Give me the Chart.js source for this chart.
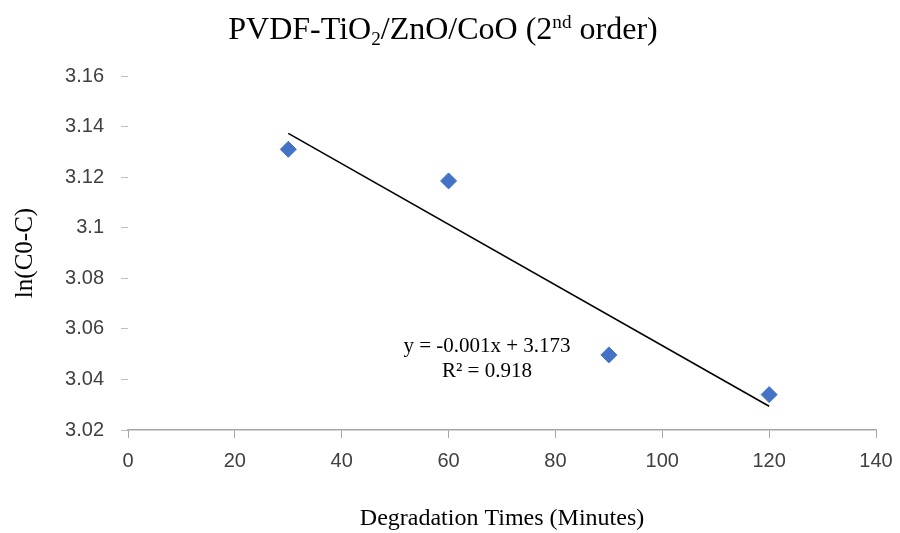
<!DOCTYPE html>
<html>
<head>
<meta charset="utf-8">
<script src="https://cdn.jsdelivr.net/npm/chart.js@4"></script>
<style>
  html, body { margin: 0; padding: 0; background: #fff; }
  #wrap { position: relative; width: 900px; height: 533px; }
  #title {
    position: absolute; left: 0; top: 10px; width: 886px; text-align: center;
    font-family: "Liberation Serif", "Times New Roman", serif; font-size: 32px; color: #000;
  }
  #title sub, #title sup { font-size: 60%; line-height: 0; }
  #title sub { vertical-align: -0.3em; }
  #title sup { vertical-align: 0.55em; }
</style>
</head>
<body>
<div id="wrap">
  <canvas id="chart" width="900" height="533"></canvas>
  <div id="title">PVDF-TiO<sub>2</sub>/ZnO/CoO (2<sup>nd</sup> order)</div>
</div>
<script>
"use strict";

// measured points
const times = [30, 60, 90, 120];
const lnValues = [3.131, 3.1185, 3.0497, 3.034];

// linear trendline ends
const trendX = [30, 120];
const trendY = [3.1373, 3.0294];

const xTicks = [0, 20, 40, 60, 80, 100, 120, 140];
const yTicks = [3.02, 3.04, 3.06, 3.08, 3.1, 3.12, 3.14, 3.16];

const eqLines = ["y = -0.001x + 3.173", "R\u00b2 = 0.918"];

const tickFont = { family: "'Liberation Sans', Arial, sans-serif", size: 20 };
const serif = "'Liberation Serif', 'Times New Roman', serif";

// trendline equation label, placed like Excel's
const eqLabel = {
  id: "eqLabel",
  afterDatasetsDraw(chart) {
    const { ctx } = chart;
    ctx.save();
    ctx.font = "21px " + serif;
    ctx.fillStyle = "#000";
    ctx.textAlign = "center";
    ctx.textBaseline = "middle";
    ctx.fillText(eqLines[0], 487, 346);
    ctx.fillText(eqLines[1], 487, 371);
    ctx.restore();
  },
};

new Chart(document.getElementById("chart"), {
  type: "scatter",
  data: {
    datasets: [
      {
        type: "line",
        label: "Linear",
        data: trendX.map((x, i) => ({ x, y: trendY[i] })),
        borderColor: "#000",
        borderWidth: 1.6,
        pointRadius: 0,
        fill: false,
        order: 1,
      },
      {
        label: "ln(C0-C)",
        data: times.map((x, i) => ({ x, y: lnValues[i] })),
        backgroundColor: "#4472c4",
        borderColor: "#4472c4",
        pointStyle: "rectRot",
        pointRadius: 8,
        pointHoverRadius: 8,
        order: 2,
      },
    ],
  },
  options: {
    responsive: false,
    animation: false,
    events: [],
    layout: { padding: { top: 76, right: 24, bottom: 0, left: 0 } },
    plugins: { legend: { display: false }, tooltip: { enabled: false } },
    scales: {
      x: {
        type: "linear",
        min: 0,
        max: 140,
        afterBuildTicks: (s) => { s.ticks = xTicks.map((v) => ({ value: v })); },
        afterFit: (s) => { s.height = 103; s.paddingLeft = 0; s.paddingRight = 0; },
        border: { display: true, color: "#a6a6a6", width: 1.5 },
        grid: { drawOnChartArea: false, drawTicks: true, tickLength: 8, color: "#a6a6a6" },
        ticks: { color: "#404040", font: tickFont, padding: 11 },
        title: {
          display: true,
          text: "Degradation Times (Minutes)",
          color: "#000",
          font: { family: serif, size: 24 },
          padding: { top: 0, bottom: 0 },
        },
      },
      y: {
        type: "linear",
        min: 3.02,
        max: 3.16,
        afterBuildTicks: (s) => { s.ticks = yTicks.map((v) => ({ value: v })); },
        afterFit: (s) => { s.width = 128; s.paddingTop = 0; s.paddingBottom = 0; },
        border: { display: false },
        grid: { drawOnChartArea: false, drawTicks: true, tickLength: 7, color: "#bfbfbf" },
        ticks: { color: "#404040", font: tickFont, padding: 17, callback: (v) => String(v) },
        title: {
          display: true,
          text: "ln(C0-C)",
          color: "#000",
          font: { family: serif, size: 25 },
          padding: { top: 10, bottom: 8 },
        },
      },
    },
  },
  plugins: [eqLabel],
});
</script>
</body>
</html>
